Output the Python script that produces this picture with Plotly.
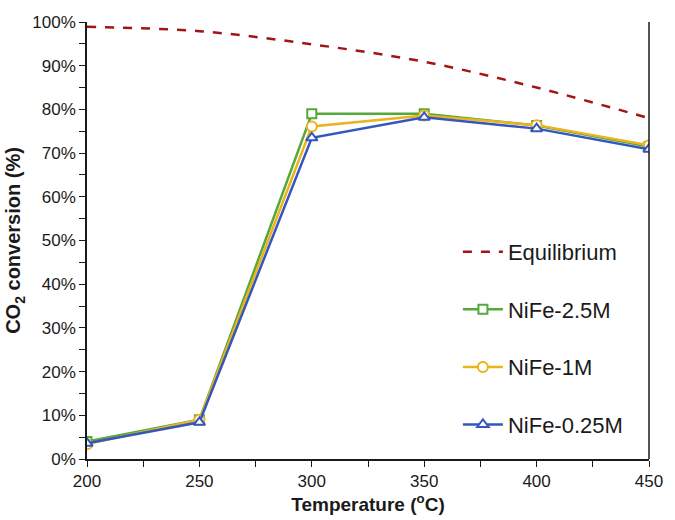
import plotly.graph_objects as go

temps = [200, 250, 300, 350, 400, 450]
equilibrium = [98.9, 97.9, 94.9, 90.9, 85.0, 78.0]
nife_25 = [4.0, 9.0, 79.0, 79.0, 76.3, 71.5]
nife_1 = [3.4, 9.0, 76.1, 78.6, 76.4, 71.8]
nife_025 = [3.6, 8.4, 73.5, 78.2, 75.6, 70.9]

fig = go.Figure()
fig.add_trace(go.Scatter(x=temps, y=equilibrium, name="Equilibrium", mode="lines",
                         line=dict(color="#A31515", width=2.5, dash="dash", shape="spline"),
                         legendgroup="a"))
fig.add_trace(go.Scatter(x=temps, y=nife_25, name="NiFe-2.5M", mode="lines+markers",
                         line=dict(color="#55A83A", width=2.5),
                         marker=dict(symbol="square", size=9, color="white",
                                     line=dict(color="#55A83A", width=2)),
                         legendgroup="b"))
fig.add_trace(go.Scatter(x=temps, y=nife_1, name="NiFe-1M", mode="lines+markers",
                         line=dict(color="#EDB31C", width=2.5),
                         marker=dict(symbol="circle", size=10, color="white",
                                     line=dict(color="#EDB31C", width=2)),
                         legendgroup="c"))
fig.add_trace(go.Scatter(x=temps, y=nife_025, name="NiFe-0.25M", mode="lines+markers",
                         line=dict(color="#3557BD", width=2.5),
                         marker=dict(symbol="triangle-up", size=10, color="white",
                                     line=dict(color="#3557BD", width=2)),
                         legendgroup="d"))

fig.update_layout(
    width=675, height=520,
    margin=dict(l=83, r=16, t=22, b=52),
    paper_bgcolor="white", plot_bgcolor="white",
    font=dict(family="Liberation Sans, Arial, sans-serif", size=17, color="#1a1a1a"),
    showlegend=True,
    legend=dict(x=0.66, y=0.522, xanchor="left", yanchor="top",
                font=dict(size=22, color="#1a1a1a"), tracegroupgap=26,
                bgcolor="rgba(0,0,0,0)", itemwidth=40),
)
fig.update_xaxes(range=[200, 450], tickvals=[200, 250, 300, 350, 400, 450],
                 showgrid=False, zeroline=False, showline=True, linecolor="#1a1a1a", linewidth=1.5,
                 ticks="outside", ticklen=6, tickcolor="#1a1a1a",
                 minor=dict(dtick=25, tick0=200, ticks="outside", ticklen=6, tickcolor="#1a1a1a"),
                 title=dict(text="<b>Temperature (<sup>o</sup>C)</b>", font=dict(size=19), standoff=4))
fig.update_yaxes(range=[0, 100], dtick=10, ticksuffix="%",
                 showgrid=False, zeroline=False, showline=True, linecolor="#1a1a1a", linewidth=1.5,
                 ticks="outside", ticklen=6, tickcolor="#1a1a1a",
                 minor=dict(dtick=5, ticks="outside", ticklen=6, tickcolor="#1a1a1a"),
                 title=dict(text="<b>CO<sub>2</sub> conversion (%)</b>", font=dict(size=20), standoff=6))
fig.add_shape(type="line", xref="paper", yref="paper", x0=1, x1=1, y0=0, y1=1,
              line=dict(color="#1a1a1a", width=1.5))

fig.write_html("out.html")
